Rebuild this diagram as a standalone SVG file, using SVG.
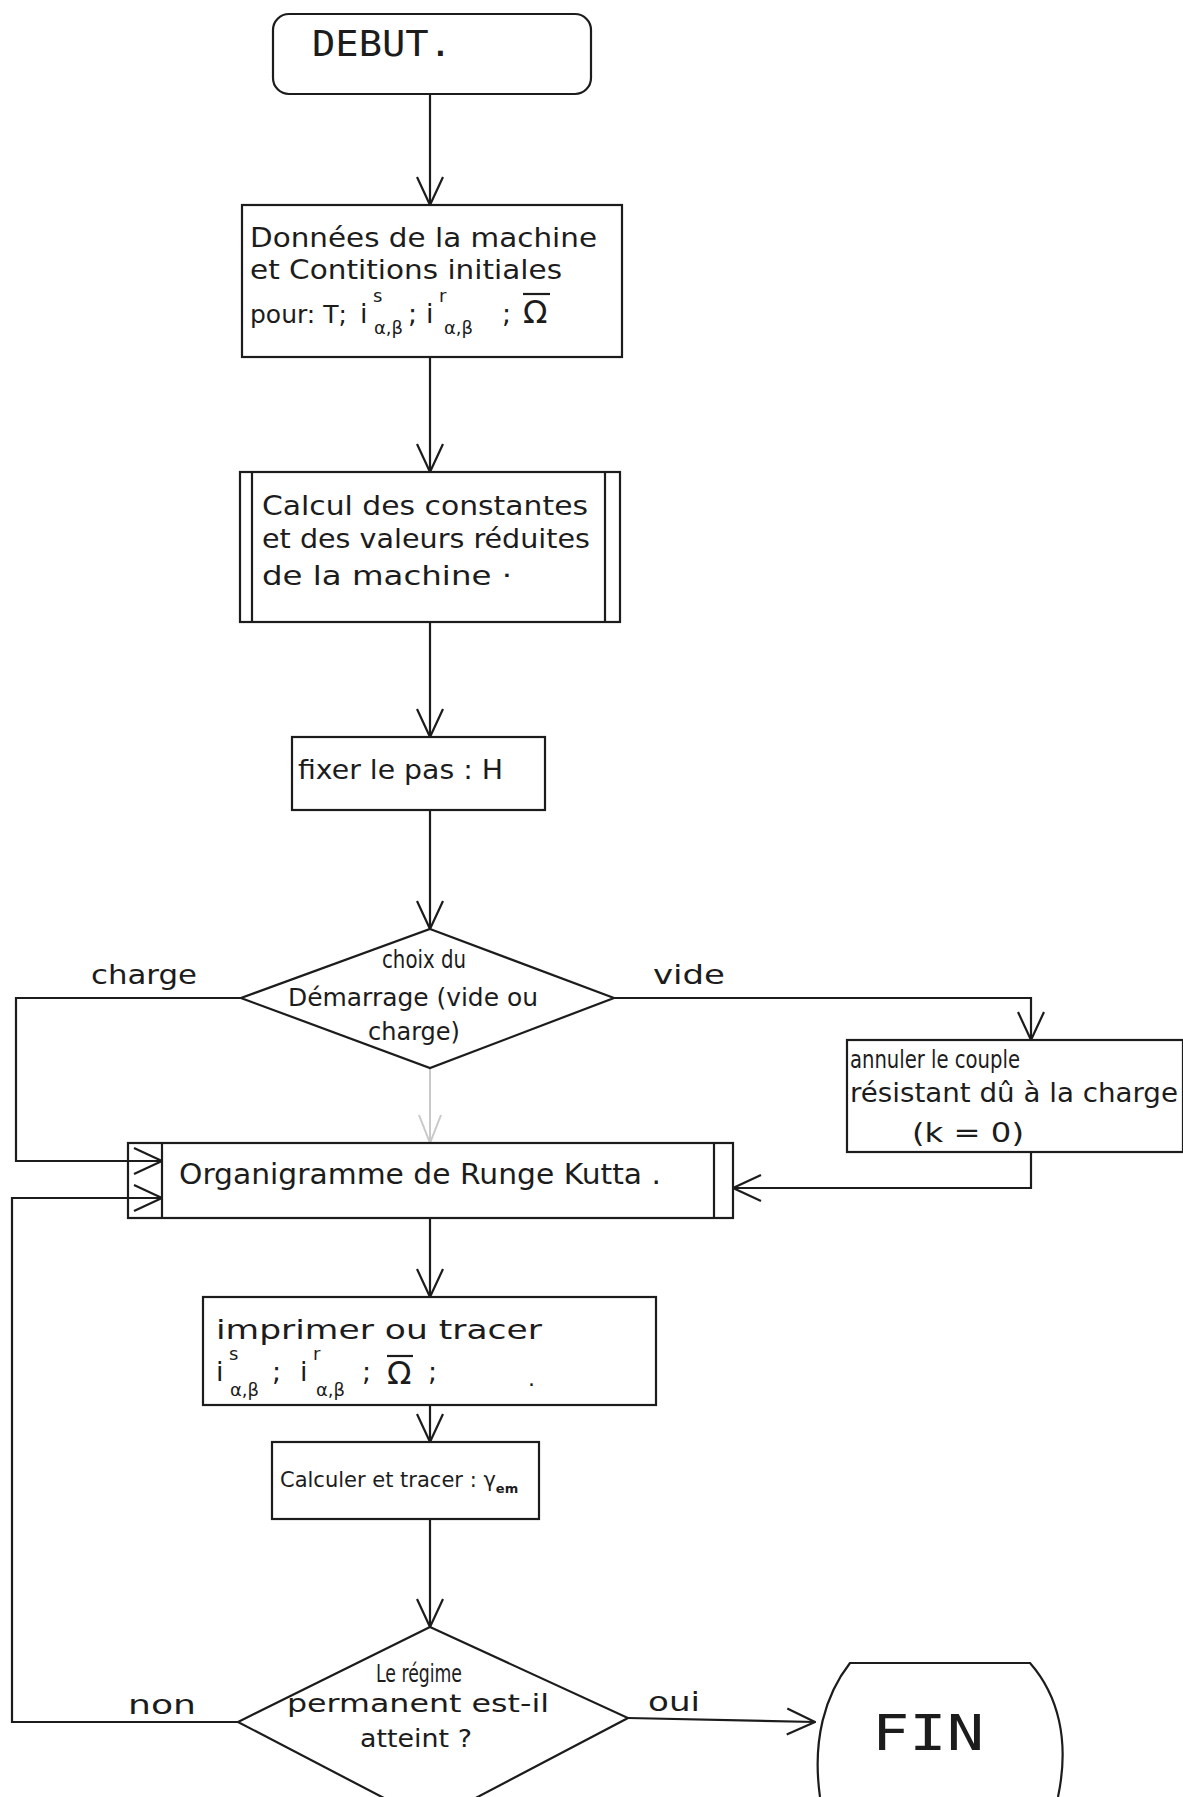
<svg xmlns="http://www.w3.org/2000/svg" width="1183" height="1797" viewBox="0 0 1183 1797" font-size="27">
<style>
.ln{stroke:#1c1c1c;stroke-width:2.2;fill:none}
.lg{stroke:#c9c9c9;stroke-width:2;fill:none}
.hw{font-family:"DejaVu Sans","Liberation Sans",sans-serif;fill:#1c1c1c}
.sm{font-size:18px}
.mono{font-family:"DejaVu Sans Mono","Liberation Mono",monospace;fill:#1c1c1c}
</style>
<defs>
<marker id="v" viewBox="0 0 30 30" refX="29" refY="15" markerWidth="30" markerHeight="30" markerUnits="userSpaceOnUse" orient="auto"><path d="M1,2 L29,15 L1,28" fill="none" stroke="#1c1c1c" stroke-width="2.2"/></marker>
<marker id="vg" viewBox="0 0 30 30" refX="29" refY="15" markerWidth="30" markerHeight="30" markerUnits="userSpaceOnUse" orient="auto"><path d="M1,4 L29,15 L1,26" fill="none" stroke="#c9c9c9" stroke-width="2"/></marker>
</defs>
<rect width="1183" height="1797" fill="#ffffff"/>

<g id="connectors">
<path class="ln" d="M430,94 V205" marker-end="url(#v)"/>
<path class="ln" d="M430,357 V472" marker-end="url(#v)"/>
<path class="ln" d="M430,621 V737" marker-end="url(#v)"/>
<path class="ln" d="M430,810 V929" marker-end="url(#v)"/>
<path class="ln" d="M241,998 H16 V1161 H162" marker-end="url(#v)"/>
<path class="ln" d="M614,998 H1031 V1040" marker-end="url(#v)"/>
<path class="ln" d="M1031,1152 V1188 H733" marker-end="url(#v)"/>
<path class="lg" d="M430,1068 V1143" marker-end="url(#vg)"/>
<path class="ln" d="M430,1218 V1297" marker-end="url(#v)"/>
<path class="ln" d="M430,1405 V1442" marker-end="url(#v)"/>
<path class="ln" d="M430,1519 V1627" marker-end="url(#v)"/>
<path class="ln" d="M238,1722 H12 V1198 H162" marker-end="url(#v)"/>
<path class="ln" d="M628,1718 L815,1722" marker-end="url(#v)"/>
</g>

<g id="debut">
<rect class="ln" x="273" y="14" width="318" height="80" rx="16"/>
<text class="mono" x="312" y="56" font-size="35" textLength="140" lengthAdjust="spacingAndGlyphs">DEBUT.</text>
</g>

<g id="donnees">
<rect class="ln" x="242" y="205" width="380" height="152"/>
<text class="hw" x="250" y="247" textLength="347" lengthAdjust="spacingAndGlyphs">Données de la machine</text>
<text class="hw" x="250" y="279" textLength="312" lengthAdjust="spacingAndGlyphs">et Contitions initiales</text>
<text class="hw" x="250" y="323" font-size="25">pour: T;</text>
<text class="hw" x="360" y="323">i<tspan class="sm" x="373" y="302">s</tspan><tspan class="sm" x="374" y="334">α,β</tspan><tspan x="408" y="323">;</tspan><tspan x="426" y="323">i</tspan><tspan class="sm" x="439" y="302">r</tspan><tspan class="sm" x="444" y="334">α,β</tspan><tspan x="502" y="323">;</tspan><tspan x="523" y="323" font-size="32">Ω</tspan></text>
<line class="ln" x1="523" y1="294" x2="550" y2="294"/>
</g>

<g id="calcul">
<rect class="ln" x="240" y="472" width="380" height="150"/>
<line class="ln" x1="252" y1="472" x2="252" y2="622"/>
<line class="ln" x1="605" y1="472" x2="605" y2="622"/>
<text class="hw" x="262" y="515" textLength="326" lengthAdjust="spacingAndGlyphs">Calcul des constantes</text>
<text class="hw" x="262" y="548" textLength="328" lengthAdjust="spacingAndGlyphs">et des valeurs réduites</text>
<text class="hw" x="262" y="585" textLength="250" lengthAdjust="spacingAndGlyphs">de la machine ·</text>
</g>

<g id="fixer">
<rect class="ln" x="292" y="737" width="253" height="73"/>
<text class="hw" x="298" y="779" textLength="205" lengthAdjust="spacingAndGlyphs">fixer le pas : H</text>
</g>

<g id="choix">
<polygon class="ln" points="430,929 614,998 430,1068 241,998"/>
<text class="hw" x="382" y="968" font-size="25" textLength="84" lengthAdjust="spacingAndGlyphs">choix du</text>
<text class="hw" x="288" y="1006" font-size="25" textLength="250" lengthAdjust="spacingAndGlyphs">Démarrage (vide ou</text>
<text class="hw" x="368" y="1040" font-size="25" textLength="92" lengthAdjust="spacingAndGlyphs">charge)</text>
</g>

<g id="label-charge"><text class="hw" x="91" y="984" textLength="106" lengthAdjust="spacingAndGlyphs">charge</text></g>
<g id="label-vide"><text class="hw" x="653" y="984" textLength="72" lengthAdjust="spacingAndGlyphs">vide</text></g>

<g id="annuler">
<rect class="ln" x="847" y="1040" width="336" height="112"/>
<text class="hw" x="850" y="1068" font-size="24" textLength="170" lengthAdjust="spacingAndGlyphs">annuler le couple</text>
<text class="hw" x="850" y="1102" font-size="26" textLength="328" lengthAdjust="spacingAndGlyphs">résistant dû à la charge</text>
<text class="hw" x="912" y="1142" font-size="26" textLength="112" lengthAdjust="spacingAndGlyphs">(k = 0)</text>
</g>

<g id="runge">
<rect class="ln" x="128" y="1143" width="605" height="75"/>
<line class="ln" x1="162" y1="1143" x2="162" y2="1218"/>
<line class="ln" x1="714" y1="1143" x2="714" y2="1218"/>
<text class="hw" x="179" y="1184" font-size="29" textLength="482" lengthAdjust="spacingAndGlyphs">Organigramme de Runge Kutta .</text>
</g>

<g id="imprimer">
<rect class="ln" x="203" y="1297" width="453" height="108"/>
<text class="hw" x="216" y="1339" textLength="326" lengthAdjust="spacingAndGlyphs">imprimer ou tracer</text>
<text class="hw" x="216" y="1381">i<tspan class="sm" x="229" y="1360">s</tspan><tspan class="sm" x="230" y="1396">α,β</tspan><tspan x="272" y="1381">;</tspan><tspan x="300" y="1381">i</tspan><tspan class="sm" x="313" y="1360">r</tspan><tspan class="sm" x="316" y="1396">α,β</tspan><tspan x="362" y="1381">;</tspan><tspan x="387" y="1384" font-size="32">Ω</tspan><tspan x="428" y="1381">;</tspan><tspan x="528" y="1386" font-size="22">.</tspan></text>
<line class="ln" x1="387" y1="1356" x2="413" y2="1356"/>
</g>

<g id="calculer">
<rect class="ln" x="272" y="1442" width="267" height="77"/>
<text class="hw" x="280" y="1487" font-size="21">Calculer et tracer : γ<tspan dy="6" font-size="13" font-weight="bold">em</tspan></text>
</g>

<g id="regime">
<polygon class="ln" points="430,1627 628,1718 430,1822 238,1722"/>
<text class="hw" x="376" y="1682" font-size="24" textLength="86" lengthAdjust="spacingAndGlyphs">Le régime</text>
<text class="hw" x="287" y="1712" font-size="25" textLength="262" lengthAdjust="spacingAndGlyphs">permanent est-il</text>
<text class="hw" x="360" y="1747" font-size="25" textLength="112" lengthAdjust="spacingAndGlyphs">atteint ?</text>
</g>

<g id="label-non"><text class="hw" x="128" y="1714" textLength="68" lengthAdjust="spacingAndGlyphs">non</text></g>
<g id="label-oui"><text class="hw" x="648" y="1711" textLength="52" lengthAdjust="spacingAndGlyphs">oui</text></g>

<g id="fin">
<path class="ln" d="M820,1797 C812,1740 825,1695 850,1663 H1030 C1058,1695 1070,1740 1058,1797"/>
<text class="mono" x="872" y="1750" font-size="50" textLength="112" lengthAdjust="spacingAndGlyphs">FIN</text>
</g>
</svg>
